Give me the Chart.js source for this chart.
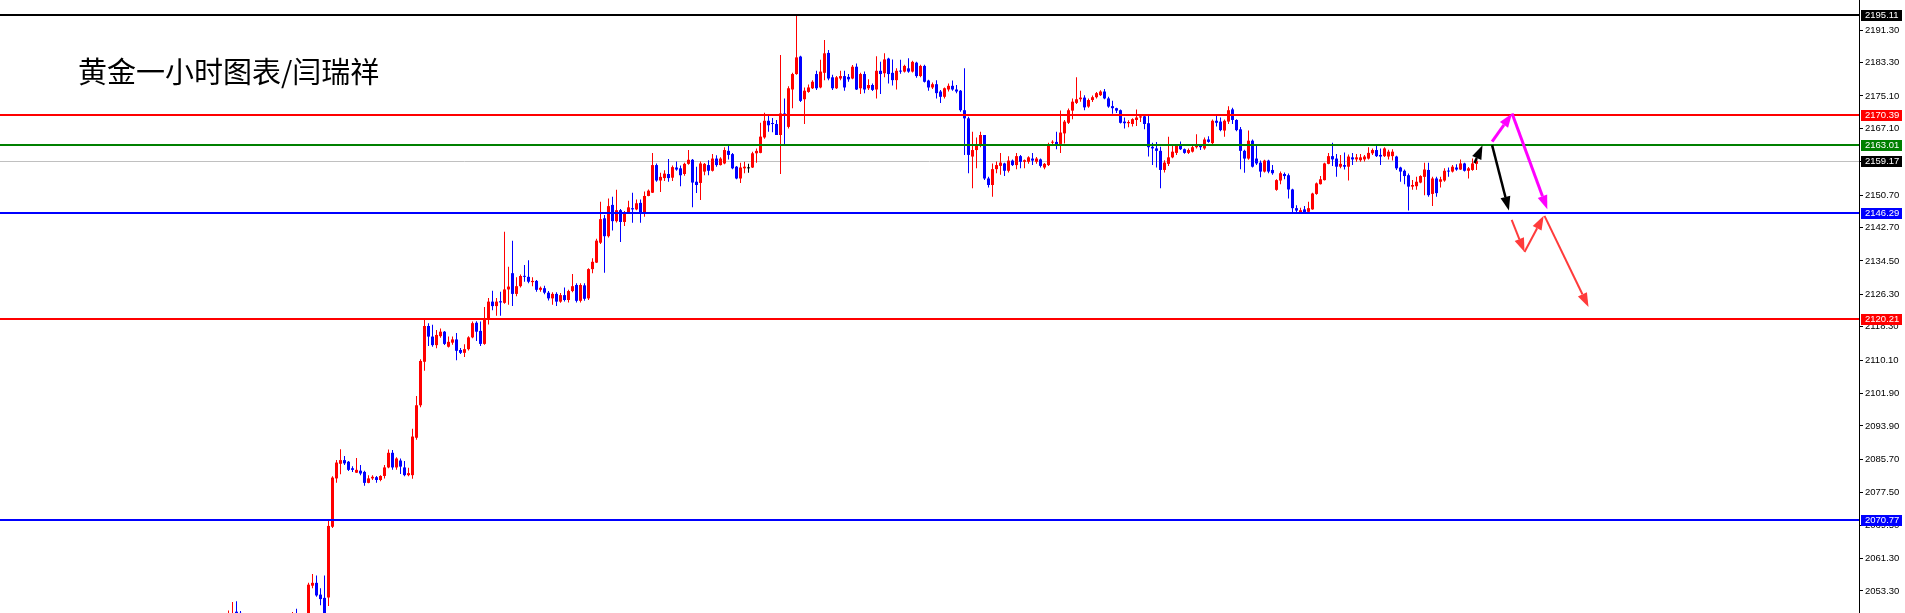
<!DOCTYPE html>
<html>
<head>
<meta charset="utf-8">
<script src="https://cdn.jsdelivr.net/npm/chart.js@4.4.0/dist/chart.umd.min.js"></script>
<style>
html, body { margin: 0; padding: 0; background: #fff; overflow: hidden; }
</style>
</head>
<body>
<canvas id="kChart" width="1905" height="613"></canvas>
<script>
// 黄金 1小时 K线，数值从图上读出（每根K线：开/高/低/收）
const openP = [
  2046.0, 2046.0, 2048.2, 2047.9, 2047.5, 2044.0, 2043.0, 2042.0, 2043.5, 2042.5,
  2043.0, 2044.0, 2043.0, 2044.0, 2045.0, 2044.0, 2045.5, 2046.5, 2045.0, 2044.5,
  2044.0, 2054.6, 2055.3, 2052.4, 2051.6, 2051.7, 2069.1, 2081.0, 2084.6, 2085.5,
  2085.1, 2083.5, 2082.4, 2082.9, 2082.6, 2079.9, 2081.0, 2081.3, 2080.6, 2081.6,
  2083.7, 2087.3, 2083.7, 2085.4, 2083.7, 2081.8, 2081.8, 2091.0, 2099.0, 2109.7,
  2118.5, 2115.9, 2113.8, 2116.0, 2117.1, 2113.4, 2114.4, 2115.2, 2112.6, 2111.9,
  2112.8, 2115.7, 2119.3, 2117.3, 2114.1, 2120.1, 2124.5, 2123.4, 2124.6, 2124.2,
  2127.5, 2131.5, 2126.4, 2128.3, 2130.8, 2130.6, 2129.3, 2129.6, 2127.4, 2127.8,
  2126.7, 2125.3, 2126.4, 2124.5, 2126.1, 2124.9, 2127.1, 2128.6, 2124.7, 2128.5,
  2125.3, 2132.5, 2134.1, 2139.0, 2145.0, 2140.6, 2148.3, 2144.3, 2147.0, 2144.1,
  2146.4, 2147.5, 2147.2, 2148.8, 2146.1, 2150.5, 2151.3, 2158.1, 2154.3, 2154.9,
  2155.9, 2155.0, 2157.5, 2157.3, 2155.9, 2158.4, 2159.4, 2154.0, 2153.7, 2156.5,
  2158.1, 2156.7, 2159.7, 2158.1, 2158.5, 2161.6, 2160.8, 2157.7, 2154.8, 2157.3,
  2157.3, 2157.5, 2161.0, 2161.1, 2164.9, 2169.0, 2168.4, 2168.2, 2165.5, 2170.8,
  2167.5, 2176.7, 2180.5, 2184.8, 2174.3, 2176.1, 2177.0, 2180.5, 2177.2, 2180.8,
  2185.7, 2179.7, 2177.0, 2179.4, 2180.0, 2179.8, 2179.4, 2182.3, 2177.0, 2180.5,
  2177.0, 2177.8, 2176.7, 2181.3, 2180.7, 2184.3, 2180.8, 2179.0, 2181.3, 2181.1,
  2181.9, 2181.1, 2183.3, 2180.0, 2182.5, 2178.9, 2177.2, 2178.0, 2176.2, 2174.9,
  2176.7, 2177.6, 2176.7, 2176.4, 2171.6, 2169.6, 2160.2, 2161.8, 2162.8, 2165.5,
  2154.8, 2153.2, 2157.1, 2157.9, 2158.5, 2156.7, 2159.2, 2158.1, 2160.3, 2158.9,
  2158.9, 2159.7, 2158.9, 2159.5, 2157.5, 2158.1, 2163.6, 2163.8, 2163.3, 2165.9,
  2168.5, 2171.5, 2173.4, 2174.3, 2174.7, 2172.5, 2174.1, 2174.8, 2175.3, 2176.2,
  2174.5, 2172.6, 2172.1, 2171.6, 2168.8, 2168.4, 2168.2, 2169.2, 2169.8, 2170.1,
  2168.4, 2162.6, 2162.2, 2161.6, 2156.9, 2158.4, 2160.0, 2161.1, 2162.8, 2162.0,
  2161.1, 2161.4, 2162.5, 2162.8, 2162.2, 2164.4, 2163.5, 2169.0, 2168.8, 2166.6,
  2168.8, 2171.8, 2169.2, 2166.9, 2161.6, 2159.7, 2164.1, 2159.7, 2158.7, 2156.5,
  2159.2, 2156.9, 2152.0, 2154.3, 2155.9, 2155.6, 2152.1, 2147.5, 2146.4, 2147.2,
  2146.6, 2147.2, 2151.0, 2153.4, 2154.4, 2158.4, 2160.3, 2159.7, 2157.7, 2158.1,
  2157.7, 2160.0, 2159.5, 2159.3, 2159.5, 2159.7, 2161.0, 2161.8, 2160.6, 2160.3,
  2160.2, 2160.3, 2160.2, 2157.5, 2156.7, 2155.6, 2152.8, 2152.9, 2153.8, 2155.2,
  2156.9, 2151.0, 2154.8, 2154.0, 2154.3, 2156.7, 2156.5, 2157.5, 2157.0, 2158.5,
  2156.7, 2156.9, 2158.4
];
const highP = [
  2048.5, 2050.6, 2050.8, 2048.4, 2047.6, 2045.5, 2044.5, 2044.0, 2045.0, 2044.0,
  2045.0, 2045.5, 2044.5, 2046.0, 2046.5, 2046.0, 2048.1, 2048.9, 2046.5, 2046.0,
  2055.3, 2057.5, 2057.1, 2054.0, 2057.1, 2070.8, 2081.5, 2085.5, 2088.2, 2086.5,
  2085.3, 2084.0, 2086.0, 2084.3, 2082.9, 2081.8, 2081.8, 2081.6, 2081.8, 2084.3,
  2088.1, 2088.0, 2086.2, 2085.9, 2085.3, 2083.6, 2093.2, 2101.3, 2110.3, 2120.0,
  2119.2, 2118.8, 2117.5, 2117.9, 2117.3, 2115.9, 2115.9, 2116.8, 2113.1, 2114.0,
  2116.0, 2119.6, 2119.7, 2119.6, 2123.2, 2125.4, 2127.2, 2125.4, 2126.9, 2141.7,
  2133.1, 2139.5, 2130.5, 2131.2, 2133.5, 2134.7, 2130.5, 2129.8, 2128.2, 2128.4,
  2127.1, 2126.8, 2126.8, 2126.6, 2128.0, 2127.4, 2131.3, 2129.0, 2129.0, 2129.0,
  2132.7, 2135.2, 2140.0, 2149.1, 2145.8, 2149.9, 2150.3, 2152.0, 2147.3, 2146.8,
  2149.3, 2151.3, 2149.6, 2149.6, 2151.6, 2152.1, 2161.1, 2158.5, 2156.2, 2156.8,
  2159.6, 2158.0, 2159.0, 2158.0, 2158.7, 2161.8, 2159.6, 2157.7, 2159.0, 2158.6,
  2159.3, 2160.8, 2160.5, 2160.0, 2162.5, 2163.0, 2161.1, 2157.9, 2158.7, 2158.9,
  2158.4, 2161.4, 2162.2, 2168.5, 2171.0, 2170.2, 2169.7, 2169.2, 2185.2, 2174.5,
  2177.5, 2180.8, 2195.1, 2185.0, 2177.2, 2177.9, 2179.0, 2181.3, 2184.0, 2188.9,
  2186.4, 2180.3, 2180.0, 2181.3, 2181.3, 2180.5, 2182.7, 2183.1, 2180.8, 2181.1,
  2179.2, 2178.2, 2184.9, 2183.5, 2185.6, 2184.5, 2184.1, 2181.9, 2184.0, 2182.8,
  2184.4, 2183.8, 2183.5, 2182.8, 2182.8, 2179.1, 2178.4, 2179.0, 2176.6, 2177.2,
  2178.2, 2178.9, 2177.8, 2176.6, 2181.9, 2170.0, 2166.3, 2164.9, 2166.3, 2165.5,
  2155.2, 2158.5, 2159.0, 2161.1, 2158.7, 2160.3, 2159.5, 2161.1, 2160.6, 2159.5,
  2160.3, 2161.1, 2160.1, 2159.7, 2158.6, 2163.6, 2164.2, 2166.3, 2171.5, 2169.2,
  2172.0, 2174.5, 2179.7, 2176.4, 2175.3, 2174.5, 2175.2, 2176.1, 2176.5, 2176.8,
  2174.9, 2173.9, 2172.2, 2171.8, 2169.8, 2169.1, 2169.6, 2171.8, 2170.5, 2170.5,
  2170.4, 2163.6, 2163.8, 2162.6, 2159.3, 2165.1, 2162.8, 2163.0, 2163.9, 2162.2,
  2162.2, 2162.8, 2165.7, 2163.3, 2164.9, 2165.2, 2169.3, 2170.2, 2169.8, 2169.3,
  2172.6, 2172.2, 2169.4, 2167.5, 2161.9, 2166.6, 2164.4, 2163.0, 2159.2, 2159.4,
  2159.4, 2158.1, 2154.6, 2156.5, 2156.3, 2156.0, 2152.3, 2148.2, 2147.6, 2148.0,
  2149.1, 2151.3, 2153.8, 2155.4, 2158.7, 2161.1, 2163.6, 2160.8, 2160.6, 2161.2,
  2160.7, 2161.1, 2160.8, 2160.8, 2160.6, 2162.5, 2162.2, 2163.0, 2162.2, 2162.5,
  2161.9, 2162.0, 2160.4, 2157.7, 2157.0, 2156.0, 2154.4, 2155.2, 2155.6, 2158.7,
  2158.7, 2155.2, 2155.2, 2155.2, 2157.3, 2157.5, 2158.1, 2158.3, 2159.5, 2158.7,
  2157.6, 2159.7, 2159.5
];
const lowP = [
  2045.0, 2045.0, 2045.0, 2046.0, 2043.0, 2042.0, 2041.0, 2040.5, 2042.0, 2041.0,
  2042.0, 2042.5, 2041.5, 2043.0, 2043.5, 2043.0, 2044.5, 2044.0, 2043.5, 2043.0,
  2043.5, 2054.0, 2051.9, 2049.8, 2045.0, 2049.6, 2068.8, 2079.9, 2082.0, 2084.3,
  2082.8, 2082.6, 2082.3, 2081.8, 2079.2, 2079.8, 2080.6, 2079.9, 2080.3, 2081.0,
  2083.5, 2083.1, 2083.1, 2082.1, 2081.5, 2081.5, 2080.9, 2090.5, 2098.5, 2107.5,
  2113.6, 2113.4, 2113.0, 2115.6, 2113.8, 2113.2, 2113.9, 2110.1, 2111.6, 2110.9,
  2112.5, 2115.5, 2114.8, 2113.6, 2113.9, 2118.9, 2122.4, 2121.0, 2121.0, 2124.0,
  2123.7, 2123.4, 2125.8, 2128.0, 2129.4, 2129.0, 2128.3, 2126.9, 2126.9, 2126.3,
  2124.8, 2123.7, 2123.4, 2124.2, 2124.5, 2124.3, 2126.8, 2124.3, 2124.3, 2124.7,
  2124.9, 2131.5, 2134.0, 2138.7, 2131.6, 2140.3, 2142.0, 2144.0, 2139.2, 2143.1,
  2146.1, 2143.9, 2147.0, 2143.9, 2145.4, 2150.4, 2151.2, 2154.0, 2151.5, 2154.2,
  2154.0, 2154.2, 2156.7, 2152.9, 2155.5, 2158.2, 2147.7, 2151.2, 2149.5, 2155.6,
  2155.6, 2156.5, 2157.7, 2158.0, 2158.3, 2159.5, 2157.1, 2154.6, 2153.7, 2156.1,
  2156.2, 2157.4, 2158.7, 2161.0, 2164.6, 2166.3, 2166.2, 2165.5, 2155.9, 2163.3,
  2167.1, 2172.1, 2180.3, 2173.6, 2168.2, 2175.9, 2176.8, 2176.6, 2177.0, 2179.0,
  2179.0, 2176.6, 2176.8, 2179.0, 2176.4, 2178.6, 2179.2, 2176.6, 2175.6, 2175.8,
  2176.6, 2176.3, 2174.5, 2175.6, 2179.7, 2178.2, 2177.7, 2176.7, 2180.6, 2180.9,
  2180.8, 2180.9, 2179.6, 2179.7, 2178.4, 2176.4, 2176.8, 2174.5, 2173.4, 2174.5,
  2176.2, 2176.4, 2175.8, 2171.2, 2160.6, 2156.1, 2152.4, 2157.3, 2162.5, 2154.4,
  2152.6, 2150.3, 2156.1, 2155.7, 2155.4, 2156.3, 2157.9, 2157.1, 2157.3, 2157.3,
  2158.4, 2158.1, 2158.4, 2157.5, 2157.1, 2157.9, 2163.0, 2162.0, 2161.1, 2163.4,
  2168.2, 2169.4, 2173.1, 2173.7, 2171.6, 2172.2, 2173.6, 2174.5, 2175.1, 2174.3,
  2172.2, 2170.7, 2170.9, 2168.3, 2167.1, 2167.4, 2167.6, 2167.7, 2168.7, 2166.9,
  2160.2, 2158.1, 2157.5, 2152.4, 2156.3, 2157.9, 2159.8, 2160.6, 2161.8, 2160.9,
  2160.8, 2161.2, 2162.2, 2161.8, 2161.9, 2163.6, 2163.1, 2167.6, 2166.4, 2165.1,
  2168.2, 2168.2, 2166.4, 2157.1, 2156.2, 2159.4, 2157.5, 2158.1, 2155.1, 2156.3,
  2156.1, 2155.7, 2151.8, 2153.4, 2154.6, 2149.9, 2146.4, 2146.1, 2146.1, 2146.1,
  2146.4, 2147.1, 2150.8, 2153.3, 2154.3, 2158.3, 2157.9, 2155.2, 2157.3, 2157.0,
  2154.3, 2158.1, 2158.9, 2158.9, 2159.0, 2159.5, 2160.6, 2160.1, 2158.1, 2160.1,
  2159.5, 2159.2, 2156.9, 2154.0, 2153.4, 2146.9, 2152.0, 2152.0, 2153.6, 2150.7,
  2150.3, 2148.0, 2150.3, 2152.6, 2154.0, 2155.2, 2156.3, 2156.7, 2156.9, 2156.5,
  2154.8, 2156.7, 2156.9
];
const closeP = [
  2047.5, 2047.8, 2047.0, 2047.5, 2044.0, 2043.0, 2042.0, 2043.5, 2042.5, 2043.0,
  2044.0, 2043.0, 2044.0, 2045.0, 2044.0, 2045.5, 2046.5, 2045.0, 2044.5, 2044.0,
  2054.85, 2055.3, 2052.2, 2051.3, 2046.5, 2069.3, 2081.2, 2084.9, 2085.5, 2084.7,
  2083.1, 2083.1, 2083.1, 2082.2, 2079.9, 2081.0, 2081.4, 2080.6, 2081.6, 2083.7,
  2087.3, 2083.7, 2085.9, 2083.9, 2081.8, 2082.3, 2091.3, 2099.0, 2109.9, 2118.5,
  2115.9, 2113.8, 2116.3, 2117.1, 2114.1, 2114.6, 2115.2, 2112.4, 2111.9, 2112.8,
  2115.7, 2119.2, 2117.1, 2114.1, 2120.1, 2124.5, 2123.4, 2124.5, 2124.3, 2127.5,
  2128.2, 2126.4, 2128.3, 2130.8, 2130.6, 2129.4, 2129.6, 2127.4, 2127.9, 2126.7,
  2125.3, 2126.4, 2124.5, 2126.1, 2124.9, 2127.1, 2128.3, 2124.7, 2128.6, 2125.2,
  2132.5, 2134.3, 2139.5, 2144.8, 2140.6, 2148.0, 2144.3, 2147.0, 2144.1, 2146.4,
  2147.7, 2147.2, 2148.7, 2146.1, 2150.5, 2151.8, 2158.1, 2154.3, 2155.2, 2156.0,
  2154.9, 2157.6, 2157.0, 2155.6, 2158.4, 2159.4, 2153.8, 2153.2, 2158.5, 2158.4,
  2156.7, 2159.7, 2158.1, 2159.7, 2161.8, 2160.6, 2157.3, 2154.8, 2157.5, 2157.7,
  2157.3, 2161.0, 2161.6, 2165.1, 2169.0, 2167.9, 2168.2, 2165.5, 2170.8, 2170.4,
  2177.0, 2180.5, 2184.6, 2173.9, 2176.4, 2177.2, 2178.6, 2177.0, 2181.1, 2185.6,
  2179.4, 2177.0, 2179.7, 2180.0, 2177.2, 2179.2, 2182.3, 2176.7, 2180.5, 2176.7,
  2177.8, 2176.6, 2181.3, 2180.5, 2184.1, 2180.5, 2179.0, 2181.3, 2181.1, 2182.5,
  2181.1, 2183.5, 2180.0, 2182.5, 2178.6, 2177.2, 2178.0, 2175.8, 2174.9, 2177.0,
  2177.6, 2176.7, 2176.2, 2171.6, 2169.6, 2160.6, 2161.8, 2163.0, 2165.5, 2154.8,
  2153.2, 2157.1, 2158.1, 2158.7, 2156.7, 2159.2, 2158.1, 2160.3, 2158.9, 2159.3,
  2160.0, 2159.2, 2159.7, 2157.9, 2158.4, 2162.8, 2163.8, 2163.0, 2166.1, 2168.8,
  2171.6, 2173.7, 2174.3, 2174.7, 2172.3, 2174.1, 2174.8, 2175.8, 2176.2, 2174.5,
  2172.5, 2172.1, 2171.5, 2168.5, 2168.4, 2168.7, 2169.4, 2169.8, 2170.1, 2168.2,
  2162.5, 2162.2, 2161.6, 2156.9, 2158.7, 2160.0, 2161.4, 2162.8, 2162.0, 2161.1,
  2161.8, 2162.5, 2162.8, 2162.5, 2164.4, 2163.8, 2169.0, 2168.5, 2166.7, 2169.0,
  2171.6, 2169.2, 2166.7, 2161.6, 2159.7, 2164.1, 2157.7, 2158.5, 2156.5, 2159.2,
  2156.5, 2156.1, 2154.4, 2156.1, 2155.4, 2152.1, 2147.5, 2146.9, 2147.0, 2146.4,
  2147.5, 2151.1, 2153.6, 2154.6, 2158.5, 2160.3, 2159.5, 2157.7, 2158.4, 2157.7,
  2160.2, 2159.5, 2160.0, 2160.0, 2160.2, 2161.1, 2161.8, 2160.3, 2160.2, 2162.2,
  2161.4, 2161.4, 2157.3, 2156.5, 2155.4, 2152.8, 2153.2, 2154.0, 2155.4, 2157.0,
  2150.7, 2154.8, 2151.2, 2154.6, 2156.7, 2156.5, 2157.7, 2157.0, 2158.5, 2156.7,
  2157.3, 2158.5, 2159.17
];

// 右侧价格刻度
const tickVals = [2199.30, 2191.30, 2183.30, 2175.10, 2167.10, 2158.90, 2150.70, 2142.70,
  2134.50, 2126.30, 2118.30, 2110.10, 2101.90, 2093.90, 2085.70, 2077.50, 2069.50,
  2061.30, 2053.30];

// 水平线（压力/支撑）
const levelVals = [2195.11, 2170.39, 2163.01, 2146.29, 2120.21, 2070.77];
const levelColors = ['#000000', '#ff0000', '#008000', '#0000ff', '#ff0000', '#0000ff'];
const bidVal = 2159.17;

// 走势箭头：起点/终点（K线序号, 价格）
const arrowX1 = [311.5, 315.9, 315.9, 320.9, 320.8, 324.0, 329.0];
const arrowP1 = [2158.6, 2163.0, 2163.9, 2170.8, 2144.6, 2136.7, 2145.6];
const arrowX2 = [313.5, 320.1, 320.9, 329.7, 324.0, 328.8, 340.0];
const arrowP2 = [2163.0, 2146.9, 2170.8, 2147.2, 2136.7, 2145.6, 2123.2];
const arrowColors = ['#000000', '#000000', '#ff00ff', '#ff00ff', '#ff3b3b', '#ff3b3b', '#ff3b3b'];
const arrowWidths = [2.5, 2.5, 3, 3, 2, 2, 2];

const UP = '#ff0000', DOWN = '#0000ff', FLAT = '#000000';
const candleColors = closeP.map((c, i) => c > openP[i] ? UP : (c < openP[i] ? DOWN : FLAT));

const wickData = closeP.map((c, i) => ({ x: i, y: [lowP[i], highP[i]] }));
const bodyData = closeP.map((c, i) => ({ x: i, y: [openP[i], c] }));

function drawArrow(ctx, x1, y1, x2, y2, color, w) {
  const ang = Math.atan2(y2 - y1, x2 - x1);
  const hl = 14, hw = 5;
  const bx = x2 - hl * Math.cos(ang), by = y2 - hl * Math.sin(ang);
  ctx.strokeStyle = color;
  ctx.fillStyle = color;
  ctx.lineWidth = w;
  ctx.beginPath();
  ctx.moveTo(x1, y1);
  ctx.lineTo(bx, by);
  ctx.stroke();
  ctx.beginPath();
  ctx.moveTo(x2, y2);
  ctx.lineTo(bx + hw * Math.sin(ang), by - hw * Math.cos(ang));
  ctx.lineTo(bx - hw * Math.sin(ang), by + hw * Math.cos(ang));
  ctx.closePath();
  ctx.fill();
}

const levelsPlugin = {
  id: 'levels',
  beforeDatasetsDraw(chart) {
    const { ctx, chartArea: a, scales: { y } } = chart;
    const py = Math.round(y.getPixelForValue(bidVal)) + 0.5;
    ctx.save();
    ctx.strokeStyle = '#c0c0c0';
    ctx.lineWidth = 1;
    ctx.beginPath();
    ctx.moveTo(a.left, py);
    ctx.lineTo(a.right, py);
    ctx.stroke();
    ctx.restore();
  },
  afterDatasetsDraw(chart) {
    const { ctx, chartArea: a, scales: { x, y } } = chart;
    ctx.save();
    levelVals.forEach((v, k) => {
      const py = Math.round(y.getPixelForValue(v));
      ctx.fillStyle = levelColors[k];
      ctx.fillRect(a.left, py - 1, a.right - a.left, 2);
    });
    arrowX1.forEach((v, k) => {
      drawArrow(ctx, x.getPixelForValue(v), y.getPixelForValue(arrowP1[k]),
        x.getPixelForValue(arrowX2[k]), y.getPixelForValue(arrowP2[k]),
        arrowColors[k], arrowWidths[k]);
    });
    // 标题
    ctx.fillStyle = '#000';
    ctx.font = '29px "Noto Sans CJK SC"';
    ctx.textBaseline = 'alphabetic';
    ctx.fillText('黄金一小时图表/闫瑞祥', 78, 83);
    ctx.restore();
  },
  afterDraw(chart) {
    const { ctx, chartArea: a, scales: { y } } = chart;
    const marks = levelVals.concat([bidVal]);
    const cols = levelColors.concat(['#000000']);
    ctx.save();
    ctx.font = '9.5px "Liberation Sans"';
    ctx.textBaseline = 'middle';
    marks.forEach((v, k) => {
      const py = Math.round(y.getPixelForValue(v));
      ctx.fillStyle = cols[k];
      ctx.fillRect(a.right + 2, py - 5, 41, 11);
      ctx.fillStyle = '#fff';
      ctx.fillText(v.toFixed(2), a.right + 6, py + 0.5);
    });
    ctx.restore();
  }
};

const ctx = document.getElementById('kChart').getContext('2d');
const kChart = new Chart(ctx, {
  type: 'bar',
  data: {
    datasets: [{
      label: 'wick',
      data: wickData,
      backgroundColor: candleColors,
      barThickness: 1,
      minBarLength: 1,
      grouped: false,
      inflateAmount: 0,
      borderWidth: 0
    }, {
      label: 'body',
      data: bodyData,
      backgroundColor: candleColors,
      barThickness: 3,
      minBarLength: 1,
      grouped: false,
      inflateAmount: 0,
      borderWidth: 0
    }]
  },
  options: {
    responsive: false,
    animation: false,
    devicePixelRatio: 1,
    events: [],
    layout: { padding: 0 },
    plugins: {
      legend: { display: false },
      tooltip: { enabled: false }
    },
    scales: {
      x: {
        type: 'linear',
        display: false,
        offset: false,
        min: -57.125,
        max: 407.625
      },
      y: {
        position: 'right',
        min: 2047.88,
        max: 2198.72,
        afterBuildTicks: (scale) => {
          scale.ticks = tickVals.map(v => ({ value: v }));
        },
        afterFit: (scale) => {
          scale.width = 46;
          scale.paddingTop = 0;
          scale.paddingBottom = 0;
        },
        border: { display: true, color: '#000', width: 1 },
        grid: { drawOnChartArea: false, drawTicks: true, tickLength: 4, color: '#000' },
        ticks: {
          autoSkip: false,
          padding: 2,
          color: '#000',
          font: { family: 'Liberation Sans', size: 9.5 },
          callback: (v) => Number(v).toFixed(2)
        }
      }
    }
  },
  plugins: [levelsPlugin]
});
</script>
</body>
</html>
